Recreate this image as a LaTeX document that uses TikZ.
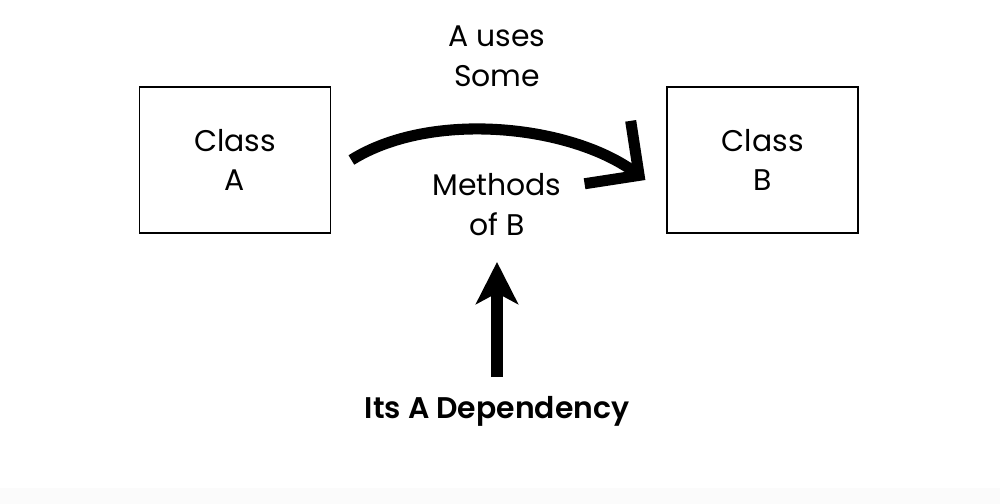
\documentclass[tikz,border=0pt]{standalone}
\usepackage{fontspec}
\setmainfont{Poppins}
\newfontfamily\semifont{Poppins SemiBold}
\usetikzlibrary{arrows.meta, positioning}

\begin{document}
\begin{tikzpicture}[
  node distance=6.7cm,
  every node/.style={font=\fontsize{17}{22.7}\selectfont, align=center},
  classbox/.style={rectangle, draw, line width=1pt, minimum width=3.82cm, minimum height=2.92cm},
  note/.style={inner sep=2pt},
  callarrow/.style={line width=6.3pt, -{Straight Barb[length=0.78cm, width=1.56cm]}},
  deparrow/.style={line width=6.8pt, -{Stealth[length=0.84cm, width=0.84cm, inset=0.22cm]}}
]
\useasboundingbox (0,0) rectangle (20,10.08);
\fill[black!1.5] (0,0) rectangle (20,0.32);

% Classes
\node[classbox] (classA) at (4.7,6.88) {Class\\A};
\node[classbox, right=6.7cm of classA] (classB) {Class\\B};

% Labels
\node[note] (uses) at (9.94,8.96) {A uses\\Some};
\node[note] (methods) at (9.94,5.98) {Methods\\of B};
\node[note, font=\fontsize{17}{22.7}\semifont] (dep) at (9.94,1.86) {Its A Dependency};

% Arrows
\draw[callarrow] ([xshift=0.4cm]classA.east) .. controls +(1.6,1.0) and +(-1.5,1.1) .. ([xshift=-0.42cm, yshift=-0.4cm]classB.west);
\draw[deparrow, shorten <=0.3cm, shorten >=0.44cm] (dep) -- (methods);

\end{tikzpicture}
\end{document}
